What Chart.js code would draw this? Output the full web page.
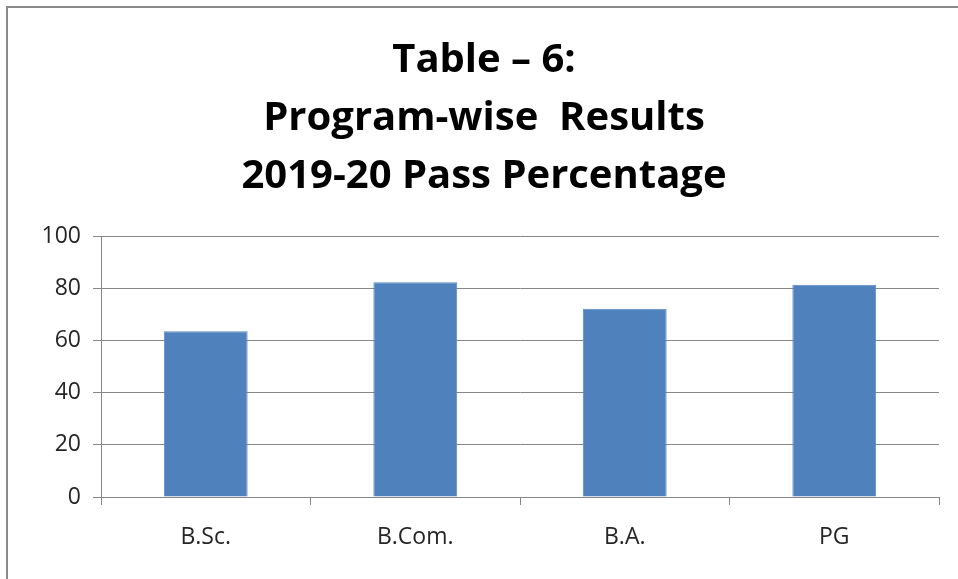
<!DOCTYPE html>
<html>
<head>
<meta charset="utf-8">
<script src="https://cdn.jsdelivr.net/npm/chart.js@4/dist/chart.umd.min.js"></script>
<style>
  html, body { margin: 0; padding: 0; background: #ffffff; overflow: hidden; }
  #wrap { position: relative; width: 958px; height: 579px; overflow: hidden; }
  #frame {
    position: absolute; left: 6px; top: 6px; width: 1200px; height: 1200px;
    border: 2px solid #8a8a8a; box-sizing: border-box;
  }
  #chart { position: absolute; left: 0; top: 0; }
</style>
</head>
<body>
<div id="wrap">
  <div id="frame"></div>
  <canvas id="chart" width="968" height="579"></canvas>
</div>
<script>
// Chart data
const titleLines = ['Table \u2013 6:', 'Program-wise  Results', '2019-20 Pass Percentage'];
const programs = ['B.Sc.', 'B.Com.', 'B.A.', 'PG'];
const passPercent = [63.5, 82.3, 72.1, 81.3];
const yTicks = [0, 20, 40, 60, 80, 100];

const gridColor = '#868686';
const textColor = '#262626';
const tickFont = { family: "'Open Sans', sans-serif", size: 23 };

const ctx = document.getElementById('chart').getContext('2d');

new Chart(ctx, {
  type: 'bar',
  data: {
    labels: programs,
    datasets: [{
      label: 'Pass Percentage',
      data: passPercent,
      backgroundColor: '#4f81bd',
      borderColor: '#5b8cc6',
      borderWidth: 1,
      categoryPercentage: 1.0,
      barPercentage: 0.4
    }]
  },
  options: {
    responsive: false,
    animation: false,
    layout: { padding: 0 },
    scales: {
      x: {
        grid: {
          drawOnChartArea: false,
          drawTicks: true,
          tickLength: 8,
          color: gridColor,
          offset: true
        },
        border: { color: gridColor, width: 1 },
        ticks: { color: textColor, padding: 19, font: tickFont },
        afterFit: (scale) => { scale.height = 82; }
      },
      y: {
        min: 0,
        max: 100,
        afterBuildTicks: (scale) => { scale.ticks = yTicks.map(v => ({ value: v })); },
        grid: { color: gridColor, tickLength: 8, lineWidth: 1 },
        border: { color: gridColor, width: 1 },
        ticks: { color: textColor, padding: 12, font: tickFont },
        afterFit: (scale) => { scale.width = 101; }
      },
      // empty right-hand space so the title centres over the full plot frame
      yRight: {
        position: 'right',
        display: true,
        grid: { display: false, drawTicks: false },
        border: { display: false },
        ticks: { display: false },
        afterFit: (scale) => { scale.width = 29; }
      }
    },
    plugins: {
      legend: { display: false },
      tooltip: { enabled: false },
      title: {
        display: true,
        text: titleLines,
        color: '#000000',
        font: { family: "'Open Sans', sans-serif", size: 40, weight: 'bold', lineHeight: 1.45 },
        padding: { top: 32, bottom: 30 }
      }
    }
  }
});
</script>
</body>
</html>
